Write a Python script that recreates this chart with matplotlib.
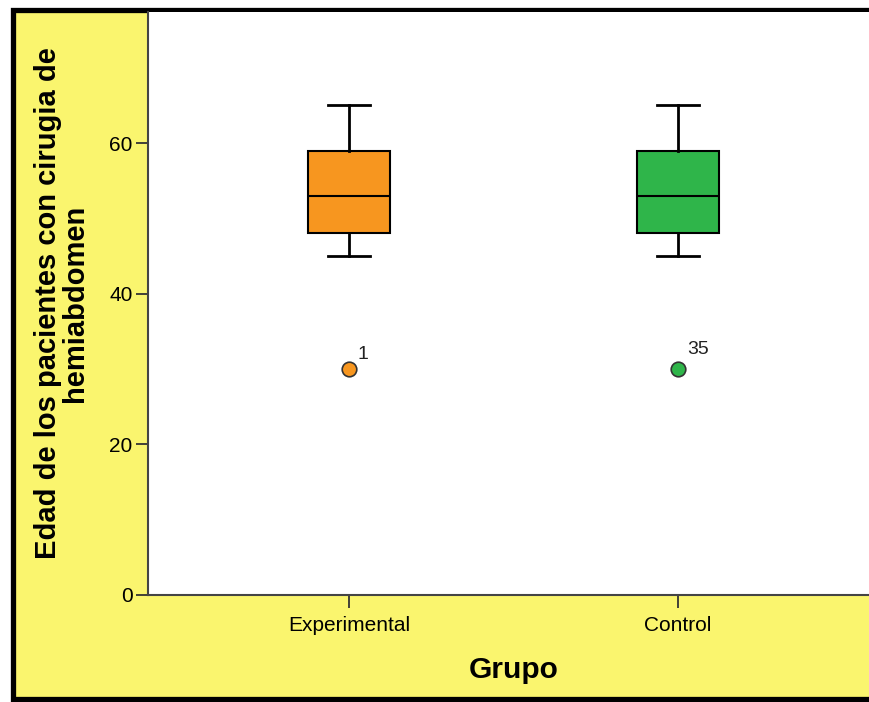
import matplotlib.pyplot as plt
from matplotlib.patches import Rectangle

plt.rcParams['font.family'] = ['Liberation Sans', 'DejaVu Sans']

# data
groups = ['Experimental', 'Control']
whisker_low = [45, 45]
q1 = [48, 48]
medians = [53, 53]
q3 = [59, 59]
whisker_high = [65, 65]
outliers = [[30], [30]]
outlier_ids = [['1'], ['35']]
colors = ['#F7961F', '#2FB54A']

YELLOW = '#FAF56E'

fig = plt.figure(figsize=(8.69, 7.02), dpi=100, facecolor='white')

# yellow frame with thick black border (cut off on the right)
frame = Rectangle((13 / 869, 3.5 / 702), 1.2, 689 / 702, transform=fig.transFigure,
                  facecolor=YELLOW, edgecolor='black', linewidth=3.8, zorder=-5)
fig.add_artist(frame)

ax = fig.add_axes([148 / 869, 107 / 702, 731 / 869, 583 / 702])
ax.set_zorder(1)
ax.set_facecolor('white')

stats = []
for i in range(len(groups)):
    stats.append({
        'whislo': whisker_low[i], 'q1': q1[i], 'med': medians[i],
        'q3': q3[i], 'whishi': whisker_high[i], 'fliers': outliers[i],
        'label': groups[i],
    })

positions = [1, 2]
bp = ax.bxp(stats, positions=positions, widths=0.252, patch_artist=True,
            showfliers=True,
            boxprops=dict(linewidth=1.5, edgecolor='black'),
            medianprops=dict(color='black', linewidth=1.5),
            whiskerprops=dict(color='black', linewidth=2),
            capprops=dict(color='black', linewidth=2),
            capwidths=0.125)

for patch, c in zip(bp['boxes'], colors):
    patch.set_facecolor(c)
for fl, c in zip(bp['fliers'], colors):
    fl.set_marker('o')
    fl.set_markerfacecolor(c)
    fl.set_markeredgecolor('#333333')
    fl.set_markersize(10.5)
    fl.set_markeredgewidth(1.2)

offsets = [(6, 4), (6.5, 8)]
for i in range(len(groups)):
    for val, lab in zip(outliers[i], outlier_ids[i]):
        ax.annotate(lab, (positions[i], val), xytext=offsets[i], textcoords='offset points',
                    fontsize=14, color='#222222', ha='left', va='bottom')

ax.set_xlim(1 - 201 / 329, 2 + 201 / 329)
ax.set_ylim(0, 77.4)
ax.set_yticks([0, 20, 40, 60])
ax.set_xticks(positions)
ax.set_xticklabels(groups)
ax.tick_params(axis='both', labelsize=15, length=9, width=1.3, direction='out', colors='#333333')
ax.tick_params(axis='x', labelcolor='black', pad=6)
ax.tick_params(axis='y', labelcolor='black', pad=2)

for side in ['top', 'right']:
    ax.spines[side].set_visible(False)
for side in ['left', 'bottom']:
    ax.spines[side].set_color('#444444')
    ax.spines[side].set_linewidth(1.5)

ax.set_xlabel('Grupo', fontsize=21.5, fontweight='bold', labelpad=15)
ax.set_ylabel('Edad de los pacientes con cirugia de\nhemiabdomen', fontsize=21,
              fontweight='bold', labelpad=15, linespacing=0.95)

fig.savefig('out.png', dpi=100, facecolor='white')
